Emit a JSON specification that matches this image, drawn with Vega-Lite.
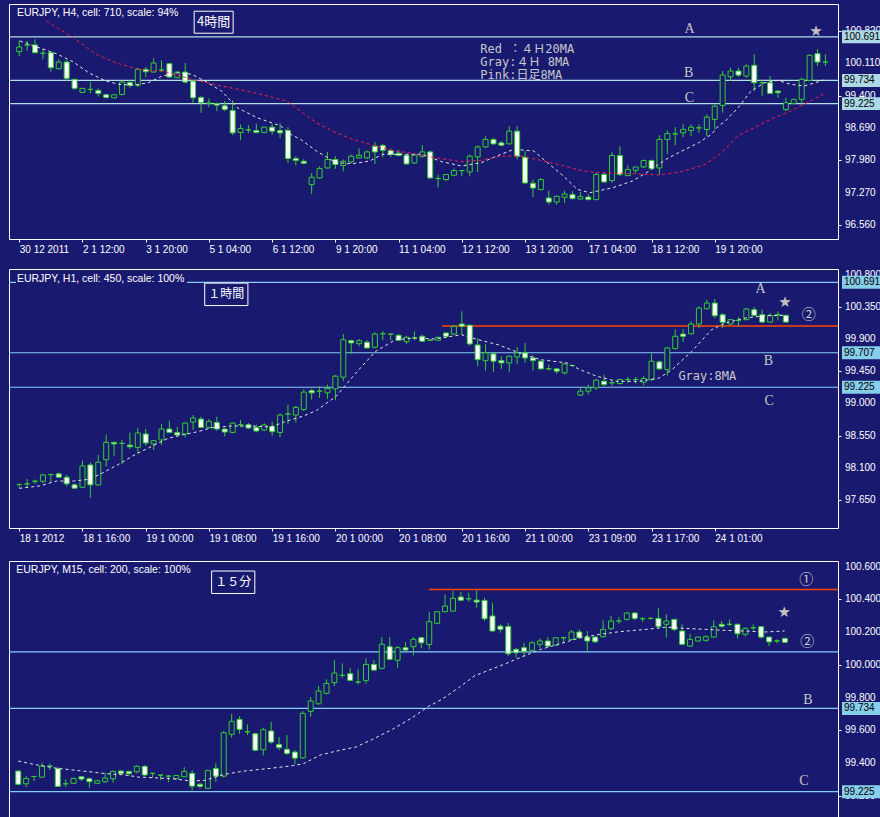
{
"$schema": "https://vega.github.io/schema/vega-lite/v6.json",
"background": "#191970",
"padding": {"left": 7, "top": 3, "right": 0, "bottom": 0},
"config": {
  "view": {"stroke": "#ffffff", "strokeWidth": 1, "fill": "#191970"},
  "axis": {"grid": false, "domain": false, "tickColor": "#ffffff", "tickSize": 3, "labelColor": "#ffffff", "labelFont": "Liberation Sans", "labelFontSize": 10.5, "labelPadding": 3, "labelFlush": false, "labelOverlap": false},
  "axisX": {"labelAlign": "left", "labelFontSize": 10, "labelPadding": 2},
  "text": {"baseline": "middle"}
},
"datasets": {
"c1": [
{"i":0,"o":100.365,"h":100.616,"l":100.27,"c":100.468},{"i":1,"o":100.512,"h":100.6,"l":100.38,"c":100.512},{"i":2,"o":100.512,"h":100.638,"l":100.343,"c":100.343},{"i":3,"o":100.33,"h":100.418,"l":100.198,"c":100.33},{"i":4,"o":100.343,"h":100.38,"l":99.925,"c":100.013},{"i":5,"o":99.991,"h":100.198,"l":99.978,"c":100.138},{"i":6,"o":100.138,"h":100.176,"l":99.736,"c":99.78},{"i":7,"o":99.758,"h":99.771,"l":99.529,"c":99.56},{"i":8,"o":99.472,"h":99.566,"l":99.456,"c":99.56},{"i":9,"o":99.537,"h":99.698,"l":99.449,"c":99.537},
{"i":10,"o":99.515,"h":99.56,"l":99.383,"c":99.449},{"i":11,"o":99.419,"h":99.441,"l":99.339,"c":99.361},{"i":12,"o":99.353,"h":99.434,"l":99.339,"c":99.419},{"i":13,"o":99.427,"h":99.735,"l":99.405,"c":99.698},{"i":14,"o":99.691,"h":99.749,"l":99.573,"c":99.626},{"i":15,"o":99.626,"h":100.013,"l":99.588,"c":99.977},{"i":16,"o":99.977,"h":100.028,"l":99.808,"c":99.925},{"i":17,"o":99.918,"h":100.22,"l":99.903,"c":100.116},{"i":18,"o":99.962,"h":100.176,"l":99.94,"c":99.962},{"i":19,"o":100.101,"h":100.123,"l":99.793,"c":99.808},
{"i":20,"o":99.793,"h":99.94,"l":99.78,"c":99.918},{"i":21,"o":99.918,"h":100.116,"l":99.67,"c":99.698},{"i":22,"o":99.72,"h":99.742,"l":99.243,"c":99.353},{"i":23,"o":99.362,"h":99.39,"l":99.023,"c":99.252},{"i":24,"o":99.236,"h":99.34,"l":99.148,"c":99.236},{"i":25,"o":99.229,"h":99.243,"l":99.06,"c":99.192},{"i":26,"o":99.177,"h":99.28,"l":99.06,"c":99.098},{"i":27,"o":99.076,"h":99.296,"l":98.532,"c":98.583},{"i":28,"o":98.592,"h":98.768,"l":98.422,"c":98.68},{"i":29,"o":98.649,"h":98.752,"l":98.583,"c":98.649},
{"i":30,"o":98.635,"h":98.781,"l":98.57,"c":98.592},{"i":31,"o":98.592,"h":98.72,"l":98.58,"c":98.708},{"i":32,"o":98.708,"h":98.781,"l":98.547,"c":98.62},{"i":33,"o":98.635,"h":98.796,"l":98.473,"c":98.583},{"i":34,"o":98.635,"h":98.708,"l":97.923,"c":98.02},{"i":35,"o":98.02,"h":98.07,"l":97.872,"c":97.975},{"i":36,"o":97.96,"h":98.004,"l":97.894,"c":97.916},{"i":37,"o":97.447,"h":97.703,"l":97.241,"c":97.608},{"i":38,"o":97.593,"h":97.85,"l":97.58,"c":97.8},{"i":39,"o":97.813,"h":98.165,"l":97.8,"c":97.998},
{"i":40,"o":97.998,"h":98.07,"l":97.791,"c":97.888},{"i":41,"o":97.866,"h":97.998,"l":97.74,"c":97.96},{"i":42,"o":97.945,"h":98.107,"l":97.923,"c":98.07},{"i":43,"o":98.033,"h":98.24,"l":98.02,"c":98.092},{"i":44,"o":98.033,"h":98.196,"l":98.011,"c":98.165},{"i":45,"o":98.29,"h":98.385,"l":97.9,"c":98.165},{"i":46,"o":98.305,"h":98.341,"l":98.048,"c":98.202},{"i":47,"o":98.196,"h":98.24,"l":98.048,"c":98.108},{"i":48,"o":98.136,"h":98.21,"l":98.064,"c":98.086},{"i":49,"o":98.092,"h":98.108,"l":97.888,"c":97.901},
{"i":50,"o":97.923,"h":98.12,"l":97.9,"c":98.092},{"i":51,"o":98.07,"h":98.312,"l":98.033,"c":98.165},{"i":52,"o":98.165,"h":98.196,"l":97.58,"c":97.593},{"i":53,"o":97.58,"h":97.668,"l":97.388,"c":97.58},{"i":54,"o":97.558,"h":97.68,"l":97.52,"c":97.668},{"i":55,"o":97.652,"h":97.8,"l":97.63,"c":97.755},{"i":56,"o":97.755,"h":97.755,"l":97.63,"c":97.755},{"i":57,"o":97.725,"h":98.107,"l":97.63,"c":98.07},{"i":58,"o":98.055,"h":98.306,"l":97.725,"c":98.275},{"i":59,"o":98.275,"h":98.51,"l":98.253,"c":98.438},
{"i":60,"o":98.438,"h":98.473,"l":98.327,"c":98.341},{"i":61,"o":98.363,"h":98.4,"l":98.29,"c":98.312},{"i":62,"o":98.341,"h":98.73,"l":98.327,"c":98.62},{"i":63,"o":98.62,"h":98.73,"l":97.998,"c":98.07},{"i":64,"o":98.048,"h":98.18,"l":97.461,"c":97.483},{"i":65,"o":97.476,"h":97.558,"l":97.175,"c":97.373},{"i":66,"o":97.338,"h":97.593,"l":97.322,"c":97.558},{"i":67,"o":97.153,"h":97.315,"l":97.007,"c":97.065},{"i":68,"o":97.065,"h":97.212,"l":97.007,"c":97.19},{"i":69,"o":97.168,"h":97.315,"l":97.043,"c":97.241},
{"i":70,"o":97.228,"h":97.3,"l":97.118,"c":97.14},{"i":71,"o":97.131,"h":97.285,"l":97.118,"c":97.184},{"i":72,"o":97.175,"h":97.241,"l":97.102,"c":97.118},{"i":73,"o":97.118,"h":97.703,"l":97.102,"c":97.668},{"i":74,"o":97.668,"h":97.725,"l":97.483,"c":97.505},{"i":75,"o":97.535,"h":98.158,"l":97.483,"c":98.086},{"i":76,"o":98.086,"h":98.29,"l":97.63,"c":97.668},{"i":77,"o":97.645,"h":97.873,"l":97.63,"c":97.778},{"i":78,"o":97.762,"h":97.835,"l":97.69,"c":97.835},{"i":79,"o":97.835,"h":97.998,"l":97.813,"c":97.976},
{"i":80,"o":97.976,"h":97.998,"l":97.778,"c":97.8},{"i":81,"o":97.813,"h":98.532,"l":97.668,"c":98.438},{"i":82,"o":98.438,"h":98.636,"l":98.12,"c":98.57},{"i":83,"o":98.561,"h":98.708,"l":98.312,"c":98.561},{"i":84,"o":98.583,"h":98.781,"l":98.488,"c":98.658},{"i":85,"o":98.636,"h":98.768,"l":98.51,"c":98.708},{"i":86,"o":98.693,"h":98.768,"l":98.583,"c":98.693},{"i":87,"o":98.658,"h":98.988,"l":98.51,"c":98.928},{"i":88,"o":98.878,"h":99.208,"l":98.658,"c":99.17},{"i":89,"o":99.186,"h":99.94,"l":99.023,"c":99.852},
{"i":90,"o":99.815,"h":100.013,"l":99.72,"c":99.94},{"i":91,"o":99.94,"h":100.013,"l":99.808,"c":99.852},{"i":92,"o":99.83,"h":100.088,"l":99.793,"c":100.05},{"i":93,"o":100.066,"h":100.308,"l":99.5,"c":99.683},{"i":94,"o":99.683,"h":99.758,"l":99.39,"c":99.683},{"i":95,"o":99.683,"h":99.83,"l":99.441,"c":99.45},{"i":96,"o":99.5,"h":99.516,"l":99.353,"c":99.463},{"i":97,"o":99.098,"h":99.353,"l":99.06,"c":99.243},{"i":98,"o":99.23,"h":99.331,"l":99.221,"c":99.318},{"i":99,"o":99.318,"h":99.793,"l":99.208,"c":99.758},
{"i":100,"o":99.736,"h":100.308,"l":99.72,"c":100.286},{"i":101,"o":100.321,"h":100.418,"l":100.05,"c":100.138},{"i":102,"o":100.138,"h":100.308,"l":100.05,"c":100.138}
],
"c2": [
{"i":0,"o":97.866,"h":97.881,"l":97.82,"c":97.866},{"i":1,"o":97.875,"h":97.945,"l":97.82,"c":97.875},{"i":2,"o":97.912,"h":97.935,"l":97.876,"c":97.912},{"i":3,"o":97.912,"h":98.015,"l":97.884,"c":98.001},{"i":4,"o":98.005,"h":98.015,"l":97.898,"c":98.005},{"i":5,"o":98.015,"h":98.033,"l":97.96,"c":97.968},{"i":6,"o":97.968,"h":98.001,"l":97.842,"c":97.876},{"i":7,"o":97.862,"h":97.884,"l":97.806,"c":97.815},{"i":8,"o":97.828,"h":98.2,"l":97.82,"c":98.126},{"i":9,"o":98.14,"h":98.177,"l":97.681,"c":97.862},
{"i":10,"o":97.862,"h":98.28,"l":97.852,"c":98.177},{"i":11,"o":98.213,"h":98.562,"l":98.117,"c":98.455},{"i":12,"o":98.455,"h":98.469,"l":98.27,"c":98.433},{"i":13,"o":98.441,"h":98.488,"l":98.153,"c":98.441},{"i":14,"o":98.417,"h":98.594,"l":98.363,"c":98.394},{"i":15,"o":98.385,"h":98.656,"l":98.302,"c":98.586},{"i":16,"o":98.572,"h":98.642,"l":98.409,"c":98.447},{"i":17,"o":98.433,"h":98.488,"l":98.349,"c":98.479},{"i":18,"o":98.489,"h":98.711,"l":98.419,"c":98.642},{"i":19,"o":98.642,"h":98.757,"l":98.586,"c":98.594},
{"i":20,"o":98.594,"h":98.674,"l":98.548,"c":98.558},{"i":21,"o":98.572,"h":98.734,"l":98.525,"c":98.725},{"i":22,"o":98.739,"h":98.837,"l":98.628,"c":98.795},{"i":23,"o":98.781,"h":98.813,"l":98.656,"c":98.664},{"i":24,"o":98.664,"h":98.781,"l":98.642,"c":98.748},{"i":25,"o":98.734,"h":98.813,"l":98.618,"c":98.642},{"i":26,"o":98.642,"h":98.651,"l":98.539,"c":98.6},{"i":27,"o":98.594,"h":98.735,"l":98.585,"c":98.725},{"i":28,"o":98.702,"h":98.767,"l":98.665,"c":98.702},{"i":29,"o":98.702,"h":98.725,"l":98.642,"c":98.656},
{"i":30,"o":98.664,"h":98.702,"l":98.595,"c":98.614},{"i":31,"o":98.628,"h":98.72,"l":98.61,"c":98.698},{"i":32,"o":98.678,"h":98.743,"l":98.548,"c":98.604},{"i":33,"o":98.594,"h":98.859,"l":98.525,"c":98.837},{"i":34,"o":98.851,"h":98.98,"l":98.711,"c":98.851},{"i":35,"o":98.837,"h":98.966,"l":98.734,"c":98.943},{"i":36,"o":98.915,"h":99.193,"l":98.893,"c":99.157},{"i":37,"o":99.179,"h":99.203,"l":99.054,"c":99.147},{"i":38,"o":99.171,"h":99.241,"l":99.078,"c":99.171},{"i":39,"o":99.147,"h":99.263,"l":99.064,"c":99.207},
{"i":40,"o":99.203,"h":99.398,"l":99.046,"c":99.38},{"i":41,"o":99.366,"h":99.969,"l":99.31,"c":99.89},{"i":42,"o":99.876,"h":99.89,"l":99.691,"c":99.844},{"i":43,"o":99.834,"h":99.9,"l":99.798,"c":99.876},{"i":44,"o":99.854,"h":99.882,"l":99.77,"c":99.774},{"i":45,"o":99.784,"h":99.993,"l":99.77,"c":99.969},{"i":46,"o":99.973,"h":100.007,"l":99.882,"c":99.973},{"i":47,"o":99.969,"h":99.969,"l":99.882,"c":99.969},{"i":48,"o":99.951,"h":99.969,"l":99.872,"c":99.882},{"i":49,"o":99.862,"h":99.946,"l":99.83,"c":99.923},
{"i":50,"o":99.914,"h":100.007,"l":99.882,"c":99.914},{"i":51,"o":99.937,"h":99.96,"l":99.858,"c":99.868},{"i":52,"o":99.882,"h":99.9,"l":99.872,"c":99.882},{"i":53,"o":99.882,"h":99.93,"l":99.875,"c":99.923},{"i":54,"o":99.983,"h":99.993,"l":99.914,"c":99.937},{"i":55,"o":99.969,"h":100.09,"l":99.96,"c":100.077},{"i":56,"o":100.109,"h":100.286,"l":99.96,"c":100.077},{"i":57,"o":100.091,"h":100.109,"l":99.806,"c":99.83},{"i":58,"o":99.816,"h":99.909,"l":99.519,"c":99.611},{"i":59,"o":99.597,"h":99.83,"l":99.458,"c":99.705},
{"i":60,"o":99.691,"h":99.714,"l":99.436,"c":99.589},{"i":61,"o":99.597,"h":99.662,"l":99.482,"c":99.565},{"i":62,"o":99.565,"h":99.667,"l":99.436,"c":99.659},{"i":63,"o":99.649,"h":99.784,"l":99.551,"c":99.705},{"i":64,"o":99.705,"h":99.844,"l":99.565,"c":99.635},{"i":65,"o":99.635,"h":99.673,"l":99.458,"c":99.597},{"i":66,"o":99.589,"h":99.611,"l":99.472,"c":99.482},{"i":67,"o":99.482,"h":99.542,"l":99.463,"c":99.482},{"i":68,"o":99.482,"h":99.496,"l":99.412,"c":99.45},{"i":69,"o":99.426,"h":99.565,"l":99.403,"c":99.551},
{"i":70,"o":99.528,"h":99.535,"l":99.52,"c":99.528},{"i":71,"o":99.116,"h":99.217,"l":99.102,"c":99.171},{"i":72,"o":99.171,"h":99.263,"l":99.124,"c":99.217},{"i":73,"o":99.217,"h":99.342,"l":99.185,"c":99.324},{"i":74,"o":99.31,"h":99.402,"l":99.241,"c":99.263},{"i":75,"o":99.287,"h":99.324,"l":99.241,"c":99.287},{"i":76,"o":99.277,"h":99.342,"l":99.263,"c":99.333},{"i":77,"o":99.333,"h":99.37,"l":99.287,"c":99.333},{"i":78,"o":99.333,"h":99.37,"l":99.277,"c":99.333},{"i":79,"o":99.297,"h":99.38,"l":99.249,"c":99.347},
{"i":80,"o":99.333,"h":99.695,"l":99.31,"c":99.589},{"i":81,"o":99.579,"h":99.597,"l":99.468,"c":99.482},{"i":82,"o":99.472,"h":99.788,"l":99.388,"c":99.774},{"i":83,"o":99.765,"h":100.029,"l":99.751,"c":99.937},{"i":84,"o":99.969,"h":100.039,"l":99.858,"c":99.937},{"i":85,"o":99.973,"h":100.146,"l":99.96,"c":100.109},{"i":86,"o":100.109,"h":100.355,"l":100.053,"c":100.331},{"i":87,"o":100.322,"h":100.447,"l":100.308,"c":100.401},{"i":88,"o":100.401,"h":100.457,"l":100.192,"c":100.224},{"i":89,"o":100.238,"h":100.262,"l":100.053,"c":100.132},
{"i":90,"o":100.109,"h":100.178,"l":100.099,"c":100.169},{"i":91,"o":100.16,"h":100.206,"l":100.077,"c":100.16},{"i":92,"o":100.169,"h":100.331,"l":100.16,"c":100.318},{"i":93,"o":100.308,"h":100.345,"l":100.216,"c":100.23},{"i":94,"o":100.238,"h":100.308,"l":100.122,"c":100.136},{"i":95,"o":100.136,"h":100.262,"l":100.132,"c":100.23},{"i":96,"o":100.238,"h":100.284,"l":100.16,"c":100.238},{"i":97,"o":100.23,"h":100.238,"l":100.122,"c":100.136}
],
"c3": [
{"i":0,"o":99.351,"h":99.355,"l":99.266,"c":99.27},{"i":1,"o":99.273,"h":99.32,"l":99.253,"c":99.305},{"i":2,"o":99.318,"h":99.318,"l":99.29,"c":99.318},{"i":3,"o":99.314,"h":99.402,"l":99.31,"c":99.381},{"i":4,"o":99.381,"h":99.398,"l":99.357,"c":99.381},{"i":5,"o":99.367,"h":99.375,"l":99.253,"c":99.257},{"i":6,"o":99.273,"h":99.3,"l":99.255,"c":99.273},{"i":7,"o":99.276,"h":99.31,"l":99.272,"c":99.306},{"i":8,"o":99.316,"h":99.32,"l":99.29,"c":99.302},{"i":9,"o":99.304,"h":99.31,"l":99.249,"c":99.286},
{"i":10,"o":99.276,"h":99.296,"l":99.271,"c":99.292},{"i":11,"o":99.286,"h":99.341,"l":99.28,"c":99.308},{"i":12,"o":99.304,"h":99.355,"l":99.28,"c":99.349},{"i":13,"o":99.351,"h":99.357,"l":99.331,"c":99.335},{"i":14,"o":99.349,"h":99.353,"l":99.32,"c":99.335},{"i":15,"o":99.347,"h":99.386,"l":99.337,"c":99.38},{"i":16,"o":99.38,"h":99.386,"l":99.32,"c":99.327},{"i":17,"o":99.337,"h":99.337,"l":99.31,"c":99.337},{"i":18,"o":99.326,"h":99.33,"l":99.296,"c":99.326},{"i":19,"o":99.32,"h":99.326,"l":99.283,"c":99.32},
{"i":20,"o":99.304,"h":99.326,"l":99.3,"c":99.324},{"i":21,"o":99.316,"h":99.375,"l":99.314,"c":99.349},{"i":22,"o":99.337,"h":99.355,"l":99.233,"c":99.259},{"i":23,"o":99.27,"h":99.279,"l":99.245,"c":99.257},{"i":24,"o":99.245,"h":99.359,"l":99.243,"c":99.355},{"i":25,"o":99.367,"h":99.398,"l":99.284,"c":99.32},{"i":26,"o":99.32,"h":99.596,"l":99.31,"c":99.585},{"i":27,"o":99.575,"h":99.7,"l":99.555,"c":99.655},{"i":28,"o":99.667,"h":99.687,"l":99.579,"c":99.606},{"i":29,"o":99.591,"h":99.636,"l":99.571,"c":99.591},
{"i":30,"o":99.579,"h":99.585,"l":99.473,"c":99.478},{"i":31,"o":99.481,"h":99.616,"l":99.447,"c":99.604},{"i":32,"o":99.596,"h":99.651,"l":99.518,"c":99.528},{"i":33,"o":99.514,"h":99.559,"l":99.478,"c":99.494},{"i":34,"o":99.484,"h":99.571,"l":99.449,"c":99.459},{"i":35,"o":99.467,"h":99.479,"l":99.392,"c":99.43},{"i":36,"o":99.432,"h":99.718,"l":99.426,"c":99.704},{"i":37,"o":99.716,"h":99.803,"l":99.683,"c":99.779},{"i":38,"o":99.762,"h":99.871,"l":99.759,"c":99.84},{"i":39,"o":99.826,"h":99.912,"l":99.82,"c":99.887},
{"i":40,"o":99.891,"h":100.03,"l":99.871,"c":99.95},{"i":41,"o":99.936,"h":100.009,"l":99.921,"c":99.936},{"i":42,"o":99.946,"h":99.982,"l":99.901,"c":99.905},{"i":43,"o":99.895,"h":99.973,"l":99.881,"c":99.895},{"i":44,"o":99.905,"h":100.04,"l":99.885,"c":100.003},{"i":45,"o":100.003,"h":100.03,"l":99.962,"c":99.968},{"i":46,"o":99.979,"h":100.17,"l":99.973,"c":100.126},{"i":47,"o":100.111,"h":100.17,"l":100.028,"c":100.034},{"i":48,"o":100.028,"h":100.115,"l":99.982,"c":100.105},{"i":49,"o":100.105,"h":100.14,"l":100.085,"c":100.091},
{"i":50,"o":100.111,"h":100.17,"l":100.058,"c":100.156},{"i":51,"o":100.166,"h":100.17,"l":100.101,"c":100.135},{"i":52,"o":100.125,"h":100.323,"l":100.095,"c":100.264},{"i":53,"o":100.254,"h":100.329,"l":100.248,"c":100.325},{"i":54,"o":100.325,"h":100.431,"l":100.322,"c":100.36},{"i":55,"o":100.329,"h":100.451,"l":100.323,"c":100.407},{"i":56,"o":100.415,"h":100.445,"l":100.39,"c":100.395},{"i":57,"o":100.404,"h":100.441,"l":100.386,"c":100.404},{"i":58,"o":100.396,"h":100.456,"l":100.349,"c":100.384},{"i":59,"o":100.394,"h":100.41,"l":100.268,"c":100.282},
{"i":60,"o":100.299,"h":100.38,"l":100.203,"c":100.207},{"i":61,"o":100.237,"h":100.248,"l":100.197,"c":100.217},{"i":62,"o":100.235,"h":100.256,"l":100.054,"c":100.068},{"i":63,"o":100.095,"h":100.105,"l":100.044,"c":100.074},{"i":64,"o":100.105,"h":100.135,"l":100.048,"c":100.08},{"i":65,"o":100.089,"h":100.146,"l":100.085,"c":100.135},{"i":66,"o":100.126,"h":100.162,"l":100.105,"c":100.146},{"i":67,"o":100.146,"h":100.17,"l":100.105,"c":100.115},{"i":68,"o":100.121,"h":100.17,"l":100.115,"c":100.166},{"i":69,"o":100.166,"h":100.166,"l":100.135,"c":100.166},
{"i":70,"o":100.156,"h":100.213,"l":100.15,"c":100.201},{"i":71,"o":100.201,"h":100.217,"l":100.16,"c":100.166},{"i":72,"o":100.17,"h":100.207,"l":100.085,"c":100.146},{"i":73,"o":100.17,"h":100.176,"l":100.135,"c":100.141},{"i":74,"o":100.172,"h":100.272,"l":100.166,"c":100.217},{"i":75,"o":100.221,"h":100.299,"l":100.213,"c":100.268},{"i":76,"o":100.268,"h":100.292,"l":100.252,"c":100.268},{"i":77,"o":100.278,"h":100.325,"l":100.272,"c":100.317},{"i":78,"o":100.317,"h":100.323,"l":100.272,"c":100.284},{"i":79,"o":100.282,"h":100.292,"l":100.264,"c":100.282},
{"i":80,"o":100.284,"h":100.292,"l":100.276,"c":100.284},{"i":81,"o":100.284,"h":100.346,"l":100.221,"c":100.235},{"i":82,"o":100.248,"h":100.309,"l":100.166,"c":100.268},{"i":83,"o":100.278,"h":100.282,"l":100.207,"c":100.217},{"i":84,"o":100.207,"h":100.248,"l":100.121,"c":100.126},{"i":85,"o":100.115,"h":100.19,"l":100.109,"c":100.156},{"i":86,"o":100.146,"h":100.174,"l":100.142,"c":100.17},{"i":87,"o":100.15,"h":100.181,"l":100.142,"c":100.172},{"i":88,"o":100.17,"h":100.272,"l":100.166,"c":100.233},{"i":89,"o":100.248,"h":100.268,"l":100.227,"c":100.236},
{"i":90,"o":100.248,"h":100.278,"l":100.237,"c":100.248},{"i":91,"o":100.248,"h":100.252,"l":100.162,"c":100.19},{"i":92,"o":100.187,"h":100.231,"l":100.174,"c":100.223},{"i":93,"o":100.227,"h":100.248,"l":100.211,"c":100.227},{"i":94,"o":100.233,"h":100.237,"l":100.162,"c":100.17},{"i":95,"o":100.17,"h":100.172,"l":100.115,"c":100.141},{"i":96,"o":100.146,"h":100.156,"l":100.132,"c":100.146},{"i":97,"o":100.162,"h":100.166,"l":100.134,"c":100.138}
],
"m1": [
{"i":0.09,"v":100.6,"s":"gray"},{"i":4.71,"v":100.321,"s":"gray"},{"i":6.84,"v":100.139,"s":"gray"},{"i":8.84,"v":99.897,"s":"gray"},{"i":10.96,"v":99.722,"s":"gray"},{"i":12.59,"v":99.649,"s":"gray"},{"i":14.34,"v":99.627,"s":"gray"},{"i":16.34,"v":99.684,"s":"gray"},{"i":18.09,"v":99.831,"s":"gray"},{"i":20.09,"v":99.904,"s":"gray"},{"i":21.84,"v":99.869,"s":"gray"},{"i":23.46,"v":99.722,"s":"gray"},{"i":25.59,"v":99.502,"s":"gray"},{"i":27.59,"v":99.135,"s":"gray"},{"i":30.09,"v":98.916,"s":"gray"},{"i":33.09,"v":98.734,"s":"gray"},{"i":34.34,"v":98.551,"s":"gray"},{"i":35.59,"v":98.442,"s":"gray"},{"i":37.59,"v":98.185,"s":"gray"},{"i":40.09,"v":97.928,"s":"gray"},{"i":42.21,"v":97.906,"s":"gray"},{"i":44.34,"v":97.965,"s":"gray"},{"i":45.96,"v":98.112,"s":"gray"},{"i":48.46,"v":98.112,"s":"gray"},{"i":50.96,"v":98.112,"s":"gray"},{"i":53.46,"v":97.95,"s":"gray"},{"i":55.96,"v":97.856,"s":"gray"},{"i":58.46,"v":97.928,"s":"gray"},{"i":60.96,"v":98.112,"s":"gray"},{"i":62.59,"v":98.222,"s":"gray"},{"i":65.09,"v":98.185,"s":"gray"},{"i":66.84,"v":97.928,"s":"gray"},{"i":68.84,"v":97.636,"s":"gray"},{"i":70.59,"v":97.344,"s":"gray"},{"i":72.21,"v":97.269,"s":"gray"},{"i":75.09,"v":97.379,"s":"gray"},{"i":77.59,"v":97.526,"s":"gray"},{"i":79.71,"v":97.746,"s":"gray"},{"i":81.84,"v":98.003,"s":"gray"},{"i":83.84,"v":98.185,"s":"gray"},{"i":85.96,"v":98.367,"s":"gray"},{"i":87.59,"v":98.551,"s":"gray"},{"i":88.46,"v":98.734,"s":"gray"},{"i":89.34,"v":98.843,"s":"gray"},{"i":90.96,"v":99.135,"s":"gray"},{"i":92.59,"v":99.502,"s":"gray"},{"i":94.34,"v":99.684,"s":"gray"},{"i":95.96,"v":99.737,"s":"gray"},{"i":97.59,"v":99.649,"s":"gray"},{"i":99.34,"v":99.612,"s":"gray"},{"i":101.84,"v":99.744,"s":"gray"},
{"i":3.46,"v":101.039,"s":"red"},{"i":6.84,"v":100.672,"s":"red"},{"i":9.71,"v":100.308,"s":"red"},{"i":12.21,"v":100.123,"s":"red"},{"i":15.09,"v":99.978,"s":"red"},{"i":18.46,"v":99.926,"s":"red"},{"i":21.84,"v":99.759,"s":"red"},{"i":25.59,"v":99.612,"s":"red"},{"i":29.71,"v":99.465,"s":"red"},{"i":33.84,"v":99.282,"s":"red"},{"i":35.59,"v":99.063,"s":"red"},{"i":37.59,"v":98.806,"s":"red"},{"i":40.09,"v":98.587,"s":"red"},{"i":42.21,"v":98.442,"s":"red"},{"i":45.09,"v":98.295,"s":"red"},{"i":47.59,"v":98.185,"s":"red"},{"i":49.71,"v":98.134,"s":"red"},{"i":52.59,"v":98.038,"s":"red"},{"i":55.96,"v":97.95,"s":"red"},{"i":58.46,"v":97.981,"s":"red"},{"i":60.96,"v":98.075,"s":"red"},{"i":63.46,"v":98.075,"s":"red"},{"i":65.96,"v":97.981,"s":"red"},{"i":68.46,"v":97.877,"s":"red"},{"i":71.34,"v":97.746,"s":"red"},{"i":73.46,"v":97.708,"s":"red"},{"i":77.59,"v":97.686,"s":"red"},{"i":80.96,"v":97.658,"s":"red"},{"i":83.84,"v":97.73,"s":"red"},{"i":86.84,"v":97.893,"s":"red"},{"i":88.84,"v":98.147,"s":"red"},{"i":90.96,"v":98.523,"s":"red"},{"i":92.59,"v":98.661,"s":"red"},{"i":95.09,"v":98.881,"s":"red"},{"i":97.59,"v":99.063,"s":"red"},{"i":100.09,"v":99.282,"s":"red"},{"i":101.84,"v":99.443,"s":"red"}
],
"m2": [
{"i":0,"v":97.813,"s":"gray"},{"i":2.59,"v":97.846,"s":"gray"},{"i":4.71,"v":97.915,"s":"gray"},{"i":6.84,"v":97.915,"s":"gray"},{"i":8.84,"v":97.939,"s":"gray"},{"i":10.59,"v":98.031,"s":"gray"},{"i":12.59,"v":98.149,"s":"gray"},{"i":14.71,"v":98.288,"s":"gray"},{"i":16.84,"v":98.404,"s":"gray"},{"i":18.84,"v":98.512,"s":"gray"},{"i":20.96,"v":98.568,"s":"gray"},{"i":22.59,"v":98.604,"s":"gray"},{"i":24.34,"v":98.66,"s":"gray"},{"i":26.84,"v":98.684,"s":"gray"},{"i":29.34,"v":98.684,"s":"gray"},{"i":31.84,"v":98.67,"s":"gray"},{"i":33.84,"v":98.753,"s":"gray"},{"i":35.96,"v":98.823,"s":"gray"},{"i":37.59,"v":98.9,"s":"gray"},{"i":40.09,"v":99.098,"s":"gray"},{"i":42.59,"v":99.424,"s":"gray"},{"i":45.09,"v":99.727,"s":"gray"},{"i":47.59,"v":99.889,"s":"gray"},{"i":50.09,"v":99.913,"s":"gray"},{"i":52.59,"v":99.899,"s":"gray"},{"i":55.96,"v":99.959,"s":"gray"},{"i":58.09,"v":99.889,"s":"gray"},{"i":60.59,"v":99.819,"s":"gray"},{"i":63.09,"v":99.713,"s":"gray"},{"i":65.96,"v":99.61,"s":"gray"},{"i":69.34,"v":99.564,"s":"gray"},{"i":70.96,"v":99.47,"s":"gray"},{"i":73.09,"v":99.378,"s":"gray"},{"i":75.59,"v":99.308,"s":"gray"},{"i":78.46,"v":99.308,"s":"gray"},{"i":80.96,"v":99.354,"s":"gray"},{"i":82.59,"v":99.47,"s":"gray"},{"i":85.09,"v":99.727,"s":"gray"},{"i":87.59,"v":100.029,"s":"gray"},{"i":89.34,"v":100.122,"s":"gray"},{"i":91.84,"v":100.192,"s":"gray"},{"i":94.34,"v":100.224,"s":"gray"},{"i":96.84,"v":100.23,"s":"gray"}
],
"m3": [
{"i":0,"v":99.412,"s":"gray"},{"i":1.96,"v":99.392,"s":"gray"},{"i":4.84,"v":99.368,"s":"gray"},{"i":8.96,"v":99.347,"s":"gray"},{"i":11.09,"v":99.335,"s":"gray"},{"i":13.59,"v":99.327,"s":"gray"},{"i":15.21,"v":99.314,"s":"gray"},{"i":17.34,"v":99.31,"s":"gray"},{"i":19.46,"v":99.304,"s":"gray"},{"i":21.96,"v":99.29,"s":"gray"},{"i":23.59,"v":99.294,"s":"gray"},{"i":26.09,"v":99.331,"s":"gray"},{"i":28.59,"v":99.351,"s":"gray"},{"i":31.96,"v":99.368,"s":"gray"},{"i":34.46,"v":99.382,"s":"gray"},{"i":36.09,"v":99.396,"s":"gray"},{"i":38.21,"v":99.449,"s":"gray"},{"i":40.21,"v":99.473,"s":"gray"},{"i":42.71,"v":99.498,"s":"gray"},{"i":44.84,"v":99.545,"s":"gray"},{"i":47.34,"v":99.606,"s":"gray"},{"i":49.84,"v":99.677,"s":"gray"},{"i":51.96,"v":99.748,"s":"gray"},{"i":53.59,"v":99.789,"s":"gray"},{"i":55.71,"v":99.86,"s":"gray"},{"i":57.71,"v":99.932,"s":"gray"},{"i":59.84,"v":99.973,"s":"gray"},{"i":61.96,"v":100.013,"s":"gray"},{"i":63.96,"v":100.054,"s":"gray"},{"i":66.09,"v":100.095,"s":"gray"},{"i":68.59,"v":100.129,"s":"gray"},{"i":71.09,"v":100.166,"s":"gray"},{"i":73.59,"v":100.187,"s":"gray"},{"i":76.09,"v":100.203,"s":"gray"},{"i":79.46,"v":100.217,"s":"gray"},{"i":81.96,"v":100.231,"s":"gray"},{"i":84.46,"v":100.223,"s":"gray"},{"i":86.96,"v":100.217,"s":"gray"},{"i":89.46,"v":100.211,"s":"gray"},{"i":91.96,"v":100.207,"s":"gray"},{"i":94.46,"v":100.201,"s":"gray"},{"i":96.96,"v":100.207,"s":"gray"}
],
"l1": [{"p":100.691},{"p":99.734},{"p":99.225}],
"l2": [{"p":100.691},{"p":99.707},{"p":99.225}],
"l3": [{"p":100.08},{"p":99.734},{"p":99.225}],
"r2": [{"p":100.081,"i":53.5}],
"r3": [{"p":100.461,"i":51.96}],
"t1": [{"p":96.56},{"p":97.27},{"p":97.98},{"p":98.69},{"p":99.4},{"p":100.11},{"p":100.82}],
"t2": [{"p":97.65},{"p":98.1},{"p":98.55},{"p":99.0},{"p":99.45},{"p":99.9},{"p":100.35},{"p":100.8}],
"t3": [{"p":99.2},{"p":99.4},{"p":99.6},{"p":99.8},{"p":100.0},{"p":100.2},{"p":100.4},{"p":100.6}],
"a1": [
{"k":"title","i":-0.29,"p":101.206,"t":"EURJPY, H4, cell: 710, scale: 94%"},
{"k":"box","i":24.6,"p":101.012,"t":"4時間"},
{"k":"mark","i":84.8,"p":100.857,"t":"A"},
{"k":"mark","i":84.7,"p":99.904,"t":"B"},
{"k":"mark","i":84.8,"p":99.348,"t":"C"},
{"k":"star","i":100.8,"p":100.83,"t":"★"},
{"k":"legend","i":58.34,"p":100.417,"t":"Red ：４Ｈ20MA"},
{"k":"legend","i":58.34,"p":100.139,"t":"Gray:４Ｈ 8MA"},
{"k":"legend","i":58.34,"p":99.853,"t":"Pink:日足8MA"}
],
"a2": [
{"k":"title","i":-0.29,"p":100.737,"t":"EURJPY, H1, cell: 450, scale: 100%"},
{"k":"box","i":26.2,"p":100.523,"t":"１時間"},
{"k":"mark","i":93.8,"p":100.594,"t":"A"},
{"k":"star","i":96.9,"p":100.416,"t":"★"},
{"k":"circ","i":99.9,"p":100.238,"t":"②"},
{"k":"mark","i":94.8,"p":99.592,"t":"B"},
{"k":"legend","i":83.4,"p":99.378,"t":"Gray:8MA"},
{"k":"mark","i":94.9,"p":99.037,"t":"C"}
],
"a3": [
{"k":"title","i":-0.25,"p":100.578,"t":"EURJPY, M15, cell: 200, scale: 100%"},
{"k":"box","i":27.2,"p":100.505,"t":"１５分"},
{"k":"circ","i":99.7,"p":100.517,"t":"①"},
{"k":"star","i":96.9,"p":100.324,"t":"★"},
{"k":"circ","i":99.84,"p":100.141,"t":"②"},
{"k":"mark","i":99.9,"p":99.785,"t":"B"},
{"k":"mark","i":99.4,"p":99.29,"t":"C"}
],
"b1": [{"p":100.691},{"p":99.734},{"p":99.225}],
"b2": [{"p":100.691},{"p":99.707},{"p":99.225}],
"b3": [{"p":99.734},{"p":99.225}]
},
"bounds": "flush",
"spacing": 30,
"vconcat": [
{
"width": 829, "height": 235,
"layer": [
{"data": {"name": "l1"}, "mark": {"type": "rule", "color": "#b0e0e6", "strokeWidth": 1.2},
 "encoding": {"y": {"field": "p", "type": "quantitative", "scale": {"domain": [96.253, 101.412], "nice": false, "zero": false}, "axis": {"orient": "right", "values": [96.56, 97.27, 97.98, 98.69, 99.4, 100.11, 100.82], "labels": false, "title": null}}}},
{"data": {"name": "c1"}, "mark": {"type": "rule", "color": "#32cd32", "strokeWidth": 1},
 "encoding": {"x": {"field": "i", "type": "quantitative", "scale": {"domain": [-0.6625, 102.9625], "nice": false, "zero": false}, "axis": {"values": [0, 8, 16, 24, 32, 40, 48, 56, 64, 72, 80, 88], "labelExpr": "['30 12 2011','2 1 12:00','3 1 20:00','5 1 04:00','6 1 12:00','9 1 20:00','11 1 04:00','12 1 12:00','13 1 20:00','17 1 04:00','18 1 12:00','19 1 20:00'][round(datum.value/8)]", "title": null, "labelOverlap": false}},
  "y": {"field": "l", "type": "quantitative", "scale": {"domain": [96.253, 101.412], "nice": false, "zero": false}}, "y2": {"field": "h"}}},
{"data": {"name": "c1"}, "mark": {"type": "bar", "width": 5, "stroke": "#32cd32", "strokeWidth": 1},
 "encoding": {"x": {"field": "i", "type": "quantitative", "scale": {"domain": [-0.6625, 102.9625], "nice": false, "zero": false}},
  "y": {"field": "o", "type": "quantitative", "scale": {"domain": [96.253, 101.412], "nice": false, "zero": false}}, "y2": {"field": "c"},
  "fill": {"condition": {"test": "datum.c > datum.o", "value": "#191970"}, "value": "#ffffff"}}},
{"data": {"name": "m1"}, "mark": {"type": "line", "strokeWidth": 1, "strokeDash": [3, 3]},
 "encoding": {"x": {"field": "i", "type": "quantitative", "scale": {"domain": [-0.6625, 102.9625], "nice": false, "zero": false}},
  "y": {"field": "v", "type": "quantitative", "scale": {"domain": [96.253, 101.412], "nice": false, "zero": false}},
  "color": {"field": "s", "type": "nominal", "scale": {"domain": ["red", "gray"], "range": ["#ff1e46", "#e6e6e6"]}, "legend": null}}},
{"data": {"name": "a1"}, "transform": [{"filter": "datum.k == 'title'"}], "mark": {"type": "text", "align": "left", "font": "Liberation Sans", "fontSize": 10.5, "color": "#ffffff"},
 "encoding": {"x": {"field": "i", "type": "quantitative", "scale": {"domain": [-0.6625, 102.9625], "nice": false, "zero": false}}, "y": {"field": "p", "type": "quantitative", "scale": {"domain": [96.253, 101.412], "nice": false, "zero": false}}, "text": {"field": "t"}}},
{"data": {"name": "a1"}, "transform": [{"filter": "datum.k == 'box'"}], "mark": {"type": "point", "shape": "M-0.886,-0.5L0.886,-0.5L0.886,0.5L-0.886,0.5Z", "size": 1936, "filled": false, "stroke": "#ffffff", "strokeWidth": 1, "opacity": 1},
 "encoding": {"x": {"field": "i", "type": "quantitative", "scale": {"domain": [-0.6625, 102.9625], "nice": false, "zero": false}}, "y": {"field": "p", "type": "quantitative", "scale": {"domain": [96.253, 101.412], "nice": false, "zero": false}}}},
{"data": {"name": "a1"}, "transform": [{"filter": "datum.k == 'box'"}], "mark": {"type": "text", "align": "center", "font": "Noto Sans CJK JP", "fontSize": 13, "color": "#ffffff"},
 "encoding": {"x": {"field": "i", "type": "quantitative", "scale": {"domain": [-0.6625, 102.9625], "nice": false, "zero": false}}, "y": {"field": "p", "type": "quantitative", "scale": {"domain": [96.253, 101.412], "nice": false, "zero": false}}, "text": {"field": "t"}}},
{"data": {"name": "a1"}, "transform": [{"filter": "datum.k == 'mark'"}], "mark": {"type": "text", "align": "center", "font": "Liberation Serif", "fontSize": 14, "color": "#c8c8c8"},
 "encoding": {"x": {"field": "i", "type": "quantitative", "scale": {"domain": [-0.6625, 102.9625], "nice": false, "zero": false}}, "y": {"field": "p", "type": "quantitative", "scale": {"domain": [96.253, 101.412], "nice": false, "zero": false}}, "text": {"field": "t"}}},
{"data": {"name": "a1"}, "transform": [{"filter": "datum.k == 'star'"}], "mark": {"type": "text", "align": "center", "font": "DejaVu Sans", "fontSize": 15, "color": "#c0c0c0"},
 "encoding": {"x": {"field": "i", "type": "quantitative", "scale": {"domain": [-0.6625, 102.9625], "nice": false, "zero": false}}, "y": {"field": "p", "type": "quantitative", "scale": {"domain": [96.253, 101.412], "nice": false, "zero": false}}, "text": {"field": "t"}}},
{"data": {"name": "a1"}, "transform": [{"filter": "datum.k == 'legend'"}], "mark": {"type": "text", "align": "left", "font": "DejaVu Sans Mono, Noto Sans CJK JP", "fontSize": 12, "color": "#c8c8c8"},
 "encoding": {"x": {"field": "i", "type": "quantitative", "scale": {"domain": [-0.6625, 102.9625], "nice": false, "zero": false}}, "y": {"field": "p", "type": "quantitative", "scale": {"domain": [96.253, 101.412], "nice": false, "zero": false}}, "text": {"field": "t"}}},
{"data": {"name": "t1"}, "mark": {"type": "text", "align": "left", "dx": 7, "font": "Liberation Sans", "fontSize": 10, "color": "#ffffff"},
 "encoding": {"x": {"value": "width"}, "y": {"field": "p", "type": "quantitative", "scale": {"domain": [96.253, 101.412], "nice": false, "zero": false}}, "text": {"field": "p", "type": "quantitative", "format": ".3f"}}},
{"data": {"name": "b1"}, "mark": {"type": "point", "shape": "M-1,-0.333L1,-0.333L1,0.333L-1,0.333Z", "size": 1521, "filled": true, "fill": "#add8e6", "strokeWidth": 0, "opacity": 1, "xOffset": 23.5},
 "encoding": {"x": {"value": "width"}, "y": {"field": "p", "type": "quantitative", "scale": {"domain": [96.253, 101.412], "nice": false, "zero": false}}}},
{"data": {"name": "b1"}, "mark": {"type": "text", "align": "left", "dx": 6, "font": "Liberation Sans", "fontSize": 10, "color": "#000000"},
 "encoding": {"x": {"value": "width"}, "y": {"field": "p", "type": "quantitative", "scale": {"domain": [96.253, 101.412], "nice": false, "zero": false}}, "text": {"field": "p", "type": "quantitative", "format": ".3f"}}}
]
},
{
"bounds": "flush",
"spacing": 33,
"vconcat": [
{
"width": 829, "height": 259,
"layer": [
{"data": {"name": "l2"}, "mark": {"type": "rule", "color": "#87cefa", "strokeWidth": 1.2},
 "encoding": {"y": {"field": "p", "type": "quantitative", "scale": {"domain": [97.259, 100.877], "nice": false, "zero": false}, "axis": {"orient": "right", "values": [97.65, 98.1, 98.55, 99.0, 99.45, 99.9, 100.35, 100.8], "labels": false, "title": null}}}},
{"data": {"name": "r2"}, "mark": {"type": "rule", "color": "#ff4500", "strokeWidth": 1.5},
 "encoding": {"x": {"field": "i", "type": "quantitative", "scale": {"domain": [-0.6625, 102.9625], "nice": false, "zero": false}}, "x2": {"value": "width"},
  "y": {"field": "p", "type": "quantitative", "scale": {"domain": [97.259, 100.877], "nice": false, "zero": false}}}},
{"data": {"name": "c2"}, "mark": {"type": "rule", "color": "#32cd32", "strokeWidth": 1},
 "encoding": {"x": {"field": "i", "type": "quantitative", "scale": {"domain": [-0.6625, 102.9625], "nice": false, "zero": false}, "axis": {"values": [0, 8, 16, 24, 32, 40, 48, 56, 64, 72, 80, 88], "labelExpr": "['18 1 2012','18 1 16:00','19 1 00:00','19 1 08:00','19 1 16:00','20 1 00:00','20 1 08:00','20 1 16:00','21 1 00:00','23 1 09:00','23 1 17:00','24 1 01:00'][round(datum.value/8)]", "title": null, "labelOverlap": false}},
  "y": {"field": "l", "type": "quantitative", "scale": {"domain": [97.259, 100.877], "nice": false, "zero": false}}, "y2": {"field": "h"}}},
{"data": {"name": "c2"}, "mark": {"type": "bar", "width": 5, "stroke": "#32cd32", "strokeWidth": 1},
 "encoding": {"x": {"field": "i", "type": "quantitative", "scale": {"domain": [-0.6625, 102.9625], "nice": false, "zero": false}},
  "y": {"field": "o", "type": "quantitative", "scale": {"domain": [97.259, 100.877], "nice": false, "zero": false}}, "y2": {"field": "c"},
  "fill": {"condition": {"test": "datum.c > datum.o", "value": "#191970"}, "value": "#ffffff"}}},
{"data": {"name": "m2"}, "mark": {"type": "line", "strokeWidth": 1, "strokeDash": [3, 3]},
 "encoding": {"x": {"field": "i", "type": "quantitative", "scale": {"domain": [-0.6625, 102.9625], "nice": false, "zero": false}},
  "y": {"field": "v", "type": "quantitative", "scale": {"domain": [97.259, 100.877], "nice": false, "zero": false}},
  "color": {"field": "s", "type": "nominal", "scale": {"domain": ["red", "gray"], "range": ["#ff1e46", "#e6e6e6"]}, "legend": null}}},
{"data": {"name": "a2"}, "transform": [{"filter": "datum.k == 'title'"}], "mark": {"type": "point", "shape": "M-0.02,-0.14L3.4,-0.14L3.4,0.14L-0.02,0.14Z", "size": 10000, "filled": true, "fill": "#191970", "strokeWidth": 0, "opacity": 1},
 "encoding": {"x": {"field": "i", "type": "quantitative", "scale": {"domain": [-0.6625, 102.9625], "nice": false, "zero": false}}, "y": {"field": "p", "type": "quantitative", "scale": {"domain": [97.259, 100.877], "nice": false, "zero": false}}}},
{"data": {"name": "a2"}, "transform": [{"filter": "datum.k == 'title'"}], "mark": {"type": "text", "align": "left", "font": "Liberation Sans", "fontSize": 10.5, "color": "#ffffff"},
 "encoding": {"x": {"field": "i", "type": "quantitative", "scale": {"domain": [-0.6625, 102.9625], "nice": false, "zero": false}}, "y": {"field": "p", "type": "quantitative", "scale": {"domain": [97.259, 100.877], "nice": false, "zero": false}}, "text": {"field": "t"}}},
{"data": {"name": "a2"}, "transform": [{"filter": "datum.k == 'box'"}], "mark": {"type": "point", "shape": "M-0.982,-0.51L0.982,-0.51L0.982,0.51L-0.982,0.51Z", "size": 1936, "filled": false, "stroke": "#ffffff", "strokeWidth": 1, "opacity": 1},
 "encoding": {"x": {"field": "i", "type": "quantitative", "scale": {"domain": [-0.6625, 102.9625], "nice": false, "zero": false}}, "y": {"field": "p", "type": "quantitative", "scale": {"domain": [97.259, 100.877], "nice": false, "zero": false}}}},
{"data": {"name": "a2"}, "transform": [{"filter": "datum.k == 'box'"}], "mark": {"type": "text", "align": "center", "font": "Noto Sans CJK JP", "fontSize": 12, "color": "#ffffff"},
 "encoding": {"x": {"field": "i", "type": "quantitative", "scale": {"domain": [-0.6625, 102.9625], "nice": false, "zero": false}}, "y": {"field": "p", "type": "quantitative", "scale": {"domain": [97.259, 100.877], "nice": false, "zero": false}}, "text": {"field": "t"}}},
{"data": {"name": "a2"}, "transform": [{"filter": "datum.k == 'mark'"}], "mark": {"type": "text", "align": "center", "font": "Liberation Serif", "fontSize": 14, "color": "#c8c8c8"},
 "encoding": {"x": {"field": "i", "type": "quantitative", "scale": {"domain": [-0.6625, 102.9625], "nice": false, "zero": false}}, "y": {"field": "p", "type": "quantitative", "scale": {"domain": [97.259, 100.877], "nice": false, "zero": false}}, "text": {"field": "t"}}},
{"data": {"name": "a2"}, "transform": [{"filter": "datum.k == 'star'"}], "mark": {"type": "text", "align": "center", "font": "DejaVu Sans", "fontSize": 15, "color": "#c0c0c0"},
 "encoding": {"x": {"field": "i", "type": "quantitative", "scale": {"domain": [-0.6625, 102.9625], "nice": false, "zero": false}}, "y": {"field": "p", "type": "quantitative", "scale": {"domain": [97.259, 100.877], "nice": false, "zero": false}}, "text": {"field": "t"}}},
{"data": {"name": "a2"}, "transform": [{"filter": "datum.k == 'circ'"}], "mark": {"type": "text", "align": "center", "font": "Noto Sans CJK JP", "fontSize": 14, "color": "#d0d0d0"},
 "encoding": {"x": {"field": "i", "type": "quantitative", "scale": {"domain": [-0.6625, 102.9625], "nice": false, "zero": false}}, "y": {"field": "p", "type": "quantitative", "scale": {"domain": [97.259, 100.877], "nice": false, "zero": false}}, "text": {"field": "t"}}},
{"data": {"name": "a2"}, "transform": [{"filter": "datum.k == 'legend'"}], "mark": {"type": "text", "align": "left", "font": "DejaVu Sans Mono, Noto Sans CJK JP", "fontSize": 12, "color": "#c8c8c8"},
 "encoding": {"x": {"field": "i", "type": "quantitative", "scale": {"domain": [-0.6625, 102.9625], "nice": false, "zero": false}}, "y": {"field": "p", "type": "quantitative", "scale": {"domain": [97.259, 100.877], "nice": false, "zero": false}}, "text": {"field": "t"}}},
{"data": {"name": "t2"}, "mark": {"type": "text", "align": "left", "dx": 7, "font": "Liberation Sans", "fontSize": 10, "color": "#ffffff"},
 "encoding": {"x": {"value": "width"}, "y": {"field": "p", "type": "quantitative", "scale": {"domain": [97.259, 100.877], "nice": false, "zero": false}}, "text": {"field": "p", "type": "quantitative", "format": ".3f"}}},
{"data": {"name": "b2"}, "mark": {"type": "point", "shape": "M-1,-0.333L1,-0.333L1,0.333L-1,0.333Z", "size": 1521, "filled": true, "fill": "#87ceeb", "strokeWidth": 0, "opacity": 1, "xOffset": 23.5},
 "encoding": {"x": {"value": "width"}, "y": {"field": "p", "type": "quantitative", "scale": {"domain": [97.259, 100.877], "nice": false, "zero": false}}}},
{"data": {"name": "b2"}, "mark": {"type": "text", "align": "left", "dx": 6, "font": "Liberation Sans", "fontSize": 10, "color": "#000000"},
 "encoding": {"x": {"value": "width"}, "y": {"field": "p", "type": "quantitative", "scale": {"domain": [97.259, 100.877], "nice": false, "zero": false}}, "text": {"field": "p", "type": "quantitative", "format": ".3f"}}}
]
},
{
"width": 829, "height": 257,
"layer": [
{"data": {"name": "l3"}, "mark": {"type": "rule", "color": "#87cefa", "strokeWidth": 1.2},
 "encoding": {"y": {"field": "p", "type": "quantitative", "scale": {"domain": [99.064, 100.635], "nice": false, "zero": false}, "axis": {"orient": "right", "values": [99.2, 99.4, 99.6, 99.8, 100.0, 100.2, 100.4, 100.6], "labels": false, "title": null}}}},
{"data": {"name": "r3"}, "mark": {"type": "rule", "color": "#ff4500", "strokeWidth": 1.5},
 "encoding": {"x": {"field": "i", "type": "quantitative", "scale": {"domain": [-0.5375, 103.0875], "nice": false, "zero": false}, "axis": null}, "x2": {"value": "width"},
  "y": {"field": "p", "type": "quantitative", "scale": {"domain": [99.064, 100.635], "nice": false, "zero": false}}}},
{"data": {"name": "c3"}, "mark": {"type": "rule", "color": "#32cd32", "strokeWidth": 1},
 "encoding": {"x": {"field": "i", "type": "quantitative", "scale": {"domain": [-0.5375, 103.0875], "nice": false, "zero": false}, "axis": null},
  "y": {"field": "l", "type": "quantitative", "scale": {"domain": [99.064, 100.635], "nice": false, "zero": false}}, "y2": {"field": "h"}}},
{"data": {"name": "c3"}, "mark": {"type": "bar", "width": 5, "stroke": "#32cd32", "strokeWidth": 1},
 "encoding": {"x": {"field": "i", "type": "quantitative", "scale": {"domain": [-0.5375, 103.0875], "nice": false, "zero": false}, "axis": null},
  "y": {"field": "o", "type": "quantitative", "scale": {"domain": [99.064, 100.635], "nice": false, "zero": false}}, "y2": {"field": "c"},
  "fill": {"condition": {"test": "datum.c > datum.o", "value": "#191970"}, "value": "#ffffff"}}},
{"data": {"name": "m3"}, "mark": {"type": "line", "strokeWidth": 1, "strokeDash": [3, 3]},
 "encoding": {"x": {"field": "i", "type": "quantitative", "scale": {"domain": [-0.5375, 103.0875], "nice": false, "zero": false}, "axis": null},
  "y": {"field": "v", "type": "quantitative", "scale": {"domain": [99.064, 100.635], "nice": false, "zero": false}},
  "color": {"field": "s", "type": "nominal", "scale": {"domain": ["red", "gray"], "range": ["#ff1e46", "#e6e6e6"]}, "legend": null}}},
{"data": {"name": "a3"}, "transform": [{"filter": "datum.k == 'title'"}], "mark": {"type": "text", "align": "left", "font": "Liberation Sans", "fontSize": 10.5, "color": "#ffffff"},
 "encoding": {"x": {"field": "i", "type": "quantitative", "scale": {"domain": [-0.5375, 103.0875], "nice": false, "zero": false}, "axis": null}, "y": {"field": "p", "type": "quantitative", "scale": {"domain": [99.064, 100.635], "nice": false, "zero": false}}, "text": {"field": "t"}}},
{"data": {"name": "a3"}, "transform": [{"filter": "datum.k == 'box'"}], "mark": {"type": "point", "shape": "M-0.982,-0.51L0.982,-0.51L0.982,0.51L-0.982,0.51Z", "size": 1936, "filled": false, "stroke": "#ffffff", "strokeWidth": 1, "opacity": 1},
 "encoding": {"x": {"field": "i", "type": "quantitative", "scale": {"domain": [-0.5375, 103.0875], "nice": false, "zero": false}, "axis": null}, "y": {"field": "p", "type": "quantitative", "scale": {"domain": [99.064, 100.635], "nice": false, "zero": false}}}},
{"data": {"name": "a3"}, "transform": [{"filter": "datum.k == 'box'"}], "mark": {"type": "text", "align": "center", "font": "Noto Sans CJK JP", "fontSize": 12, "color": "#ffffff"},
 "encoding": {"x": {"field": "i", "type": "quantitative", "scale": {"domain": [-0.5375, 103.0875], "nice": false, "zero": false}, "axis": null}, "y": {"field": "p", "type": "quantitative", "scale": {"domain": [99.064, 100.635], "nice": false, "zero": false}}, "text": {"field": "t"}}},
{"data": {"name": "a3"}, "transform": [{"filter": "datum.k == 'mark'"}], "mark": {"type": "text", "align": "center", "font": "Liberation Serif", "fontSize": 14, "color": "#c8c8c8"},
 "encoding": {"x": {"field": "i", "type": "quantitative", "scale": {"domain": [-0.5375, 103.0875], "nice": false, "zero": false}, "axis": null}, "y": {"field": "p", "type": "quantitative", "scale": {"domain": [99.064, 100.635], "nice": false, "zero": false}}, "text": {"field": "t"}}},
{"data": {"name": "a3"}, "transform": [{"filter": "datum.k == 'star'"}], "mark": {"type": "text", "align": "center", "font": "DejaVu Sans", "fontSize": 15, "color": "#c0c0c0"},
 "encoding": {"x": {"field": "i", "type": "quantitative", "scale": {"domain": [-0.5375, 103.0875], "nice": false, "zero": false}, "axis": null}, "y": {"field": "p", "type": "quantitative", "scale": {"domain": [99.064, 100.635], "nice": false, "zero": false}}, "text": {"field": "t"}}},
{"data": {"name": "a3"}, "transform": [{"filter": "datum.k == 'circ'"}], "mark": {"type": "text", "align": "center", "font": "Noto Sans CJK JP", "fontSize": 14, "color": "#d0d0d0"},
 "encoding": {"x": {"field": "i", "type": "quantitative", "scale": {"domain": [-0.5375, 103.0875], "nice": false, "zero": false}, "axis": null}, "y": {"field": "p", "type": "quantitative", "scale": {"domain": [99.064, 100.635], "nice": false, "zero": false}}, "text": {"field": "t"}}},
{"data": {"name": "t3"}, "mark": {"type": "text", "align": "left", "dx": 7, "font": "Liberation Sans", "fontSize": 10, "color": "#ffffff"},
 "encoding": {"x": {"value": "width"}, "y": {"field": "p", "type": "quantitative", "scale": {"domain": [99.064, 100.635], "nice": false, "zero": false}}, "text": {"field": "p", "type": "quantitative", "format": ".3f"}}},
{"data": {"name": "b3"}, "mark": {"type": "point", "shape": "M-1,-0.333L1,-0.333L1,0.333L-1,0.333Z", "size": 1521, "filled": true, "fill": "#87ceeb", "strokeWidth": 0, "opacity": 1, "xOffset": 23.5},
 "encoding": {"x": {"value": "width"}, "y": {"field": "p", "type": "quantitative", "scale": {"domain": [99.064, 100.635], "nice": false, "zero": false}}}},
{"data": {"name": "b3"}, "mark": {"type": "text", "align": "left", "dx": 6, "font": "Liberation Sans", "fontSize": 10, "color": "#000000"},
 "encoding": {"x": {"value": "width"}, "y": {"field": "p", "type": "quantitative", "scale": {"domain": [99.064, 100.635], "nice": false, "zero": false}}, "text": {"field": "p", "type": "quantitative", "format": ".3f"}}}
]
}
]
}
]
}
